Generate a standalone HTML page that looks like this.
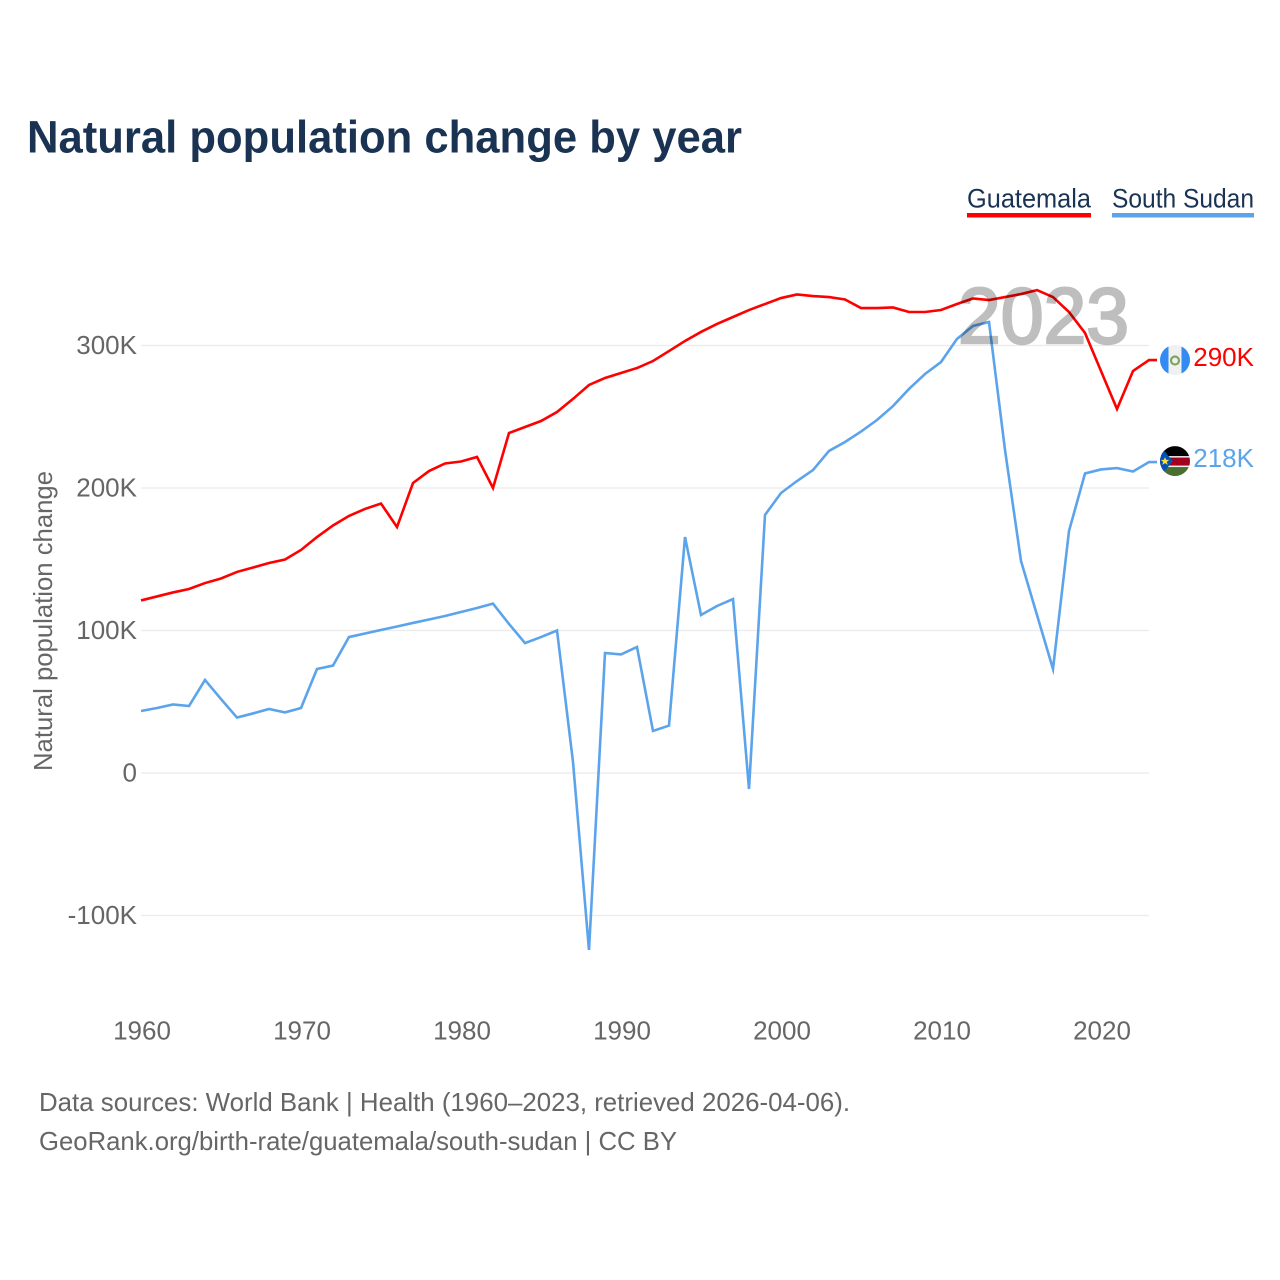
<!DOCTYPE html>
<html lang="en">
<head>
<meta charset="utf-8">
<title>Natural population change by year</title>
<style>
html,body{margin:0;padding:0;background:#fff;}
svg{display:block;font-family:"Liberation Sans",sans-serif;}
</style>
</head>
<body>
<svg id="chart" width="1280" height="1280" viewBox="0 0 1280 1280" xmlns="http://www.w3.org/2000/svg">
  <defs>
    <clipPath id="flag-clip"><circle cx="0" cy="0" r="15"></circle></clipPath>
  </defs>
  <rect x="0" y="0" width="1280" height="1280" fill="#ffffff"></rect>
  <text x="27" y="152.5" font-size="45" font-weight="700" fill="#1a3353" textLength="715" lengthAdjust="spacingAndGlyphs">Natural population change by year</text>

  <g>
    <g>
      <text x="967" y="207.5" font-size="27" fill="#1a3353" textLength="124" lengthAdjust="spacingAndGlyphs">Guatemala</text>
      <rect x="967" y="213" width="124" height="4.5" fill="#ff0000"></rect>
    </g>
    <g>
      <text x="1112" y="207.5" font-size="27" fill="#1a3353" textLength="142" lengthAdjust="spacingAndGlyphs">South Sudan</text>
      <rect x="1112" y="213" width="142" height="4.5" fill="#5ba4ec"></rect>
    </g>
  </g>

  <g id="grid"></g>
  <g id="y-ticks"></g>
  <g id="x-ticks"></g>
  <text transform="translate(52,621) rotate(-90)" text-anchor="middle" font-size="26" fill="#666666" textLength="300" lengthAdjust="spacingAndGlyphs">Natural population change</text>

  <g id="series"></g>

  <text x="958" y="343" font-size="79" font-weight="400" fill="#000000" stroke="#000000" stroke-width="2.5" opacity="0.25" textLength="171" lengthAdjust="spacingAndGlyphs">2023</text>

  <g id="flag-guatemala">
    <g clip-path="url(#flag-clip)">
      <rect x="-15" y="-15" width="30" height="30" fill="#f0f0f0"></rect>
      <rect x="-15" y="-15" width="8.5" height="30" fill="#338af3"></rect>
      <rect x="6.5" y="-15" width="8.5" height="30" fill="#338af3"></rect>
      <circle cx="0" cy="0.5" r="4" fill="none" stroke="#7fa562" stroke-width="2.2"></circle>
    </g>
  </g>
  <g id="flag-south-sudan">
    <g clip-path="url(#flag-clip)">
      <rect x="-15" y="-15" width="30" height="30" fill="#f0f0f0"></rect>
      <rect x="-15" y="-15" width="30" height="10" fill="#000000"></rect>
      <rect x="-15" y="-3.5" width="30" height="8" fill="#a2001d"></rect>
      <rect x="-15" y="6" width="30" height="9" fill="#496e2d"></rect>
      <polygon points="-15,-15 -2,0 -15,15" fill="#0052b4"></polygon>
      <polygon points="-10,-4 -8.8,-1.2 -5.8,-1.2 -8.2,0.8 -7.3,3.8 -10,2 -12.7,3.8 -11.8,0.8 -14.2,-1.2 -11.2,-1.2" fill="#ffda44"></polygon>
    </g>
  </g>

  <g id="end-labels"></g>

  <g font-size="26" fill="#666666">
    <text x="39" y="1111" textLength="811" lengthAdjust="spacingAndGlyphs">Data sources: World Bank | Health (1960–2023, retrieved 2026-04-06).</text>
    <text x="39" y="1150" textLength="638" lengthAdjust="spacingAndGlyphs">GeoRank.org/birth-rate/guatemala/south-sudan | CC BY</text>
  </g>
</svg>

<script>
const startYear = 1960;
const xTickYears = [1960, 1970, 1980, 1990, 2000, 2010, 2020];
const yTickValues = [-100, 0, 100, 200, 300];
const yTickLabels = ['-100K', '0', '100K', '200K', '300K'];
const guatemalaValues = [121.1,123.9,126.7,129.1,133.3,136.5,141.1,144.2,147.4,149.8,
  156.5,165.6,173.7,180.4,185.3,189.1,172.6,203.5,211.9,217.2,
  218.6,221.8,200,238.6,242.8,247,253.3,262.5,272.3,277.2,
  280.7,284.2,289.1,296.1,303.2,309.5,315.1,320,324.9,329.1,
  333.3,335.8,334.7,334,332.3,326.3,326.3,326.7,323.5,323.5,
  324.9,329.1,333,331.9,334,336.1,338.9,334,323.5,308.8,
  282.1,255.4,282.1,289.8];
const southSudanValues = [43.5,45.6,48.1,47,65.3,51.9,38.9,41.8,44.9,42.5,
  45.6,73,75.4,95.4,97.9,100.4,102.8,105.3,107.7,110.2,
  113,115.8,118.9,104.6,91.2,95.4,100,7.7,-124.2,84.2,
  83.2,88.4,29.5,33.3,165.6,110.9,117.2,122.1,-11.2,181.1,
  196.5,204.9,212.6,226,232.3,239.6,247.7,257.5,269.5,280,
  288.4,304.6,313.7,316.5,226.7,148.8,110.9,73,169.8,210.2,
  213,214,211.6,218.2];
const guatemalaEndLabel = '290K';
const southSudanEndLabel = '218K';

const SVGNS = 'http://www.w3.org/2000/svg';
const RED = '#ff0000';
const BLUE = '#5ba4ec';
const plotLeft = 141;
const plotRight = 1149;
const pxPerYear = 16;
const zeroY = 773;
const pxPerThousand = 1.425;
function xScale(year) { return plotLeft + (year - startYear) * pxPerYear; }
function yScale(value) { return zeroY - value * pxPerThousand; }
function make(tag, attrs) {
  const el = document.createElementNS(SVGNS, tag);
  Object.keys(attrs).forEach(function (k) { el.setAttribute(k, attrs[k]); });
  return el;
}

const gridGroup = document.getElementById('grid');
const yTickGroup = document.getElementById('y-ticks');
yTickValues.forEach(function (v, i) {
  const line = make('line', { x1: plotLeft, x2: plotRight, y1: yScale(v), y2: yScale(v), stroke: '#ebebeb', 'stroke-width': 1.2 });
  
  
  gridGroup.appendChild(line);
  const label = make('text', { x: 137, y: yScale(v) + 8.5, 'text-anchor': 'end', 'font-size': 26, fill: '#666666' });
  
  
  label.textContent = yTickLabels[i];
  yTickGroup.appendChild(label);
});

const xTickGroup = document.getElementById('x-ticks');
xTickYears.forEach(function (year) {
  const label = make('text', { x: xScale(year) + 1, y: 1039.5, 'text-anchor': 'middle', 'font-size': 26, fill: '#666666' });
  
  
  label.textContent = String(year);
  xTickGroup.appendChild(label);
});

function drawSeries(values, color) {
  const points = values.map(function (v, i) {
    return xScale(startYear + i).toFixed(2) + ',' + yScale(v).toFixed(2);
  });
  const lastY = yScale(values[values.length - 1]);
  points.push((xScale(startYear + values.length - 1) + 8) + ',' + lastY.toFixed(2));
  const line = make('polyline', { points: points.join(' '), fill: 'none', stroke: color, 'stroke-width': 2.6, 'stroke-linejoin': 'miter', 'stroke-miterlimit': 6 });
  return line;
}
const seriesGroup = document.getElementById('series');
const southSudanLine = drawSeries(southSudanValues, BLUE);


seriesGroup.appendChild(southSudanLine);
const guatemalaLine = drawSeries(guatemalaValues, RED);


seriesGroup.appendChild(guatemalaLine);

const flagX = 1175;
const guatemalaEndY = yScale(guatemalaValues[guatemalaValues.length - 1]);
const southSudanEndY = yScale(southSudanValues[southSudanValues.length - 1]);
document.getElementById('flag-guatemala').setAttribute('transform', 'translate(' + flagX + ',' + guatemalaEndY + ')');
document.getElementById('flag-south-sudan').setAttribute('transform', 'translate(' + flagX + ',' + (southSudanEndY - 1) + ')');

const endLabels = document.getElementById('end-labels');
const guatemalaLabel = make('text', { x: 1254, y: guatemalaEndY + 6, 'text-anchor': 'end', 'font-size': 26, fill: RED });


guatemalaLabel.textContent = guatemalaEndLabel;
endLabels.appendChild(guatemalaLabel);
const southSudanLabel = make('text', { x: 1254, y: southSudanEndY + 5, 'text-anchor': 'end', 'font-size': 26, fill: BLUE });


southSudanLabel.textContent = southSudanEndLabel;
endLabels.appendChild(southSudanLabel);
</script>
</body>
</html>
